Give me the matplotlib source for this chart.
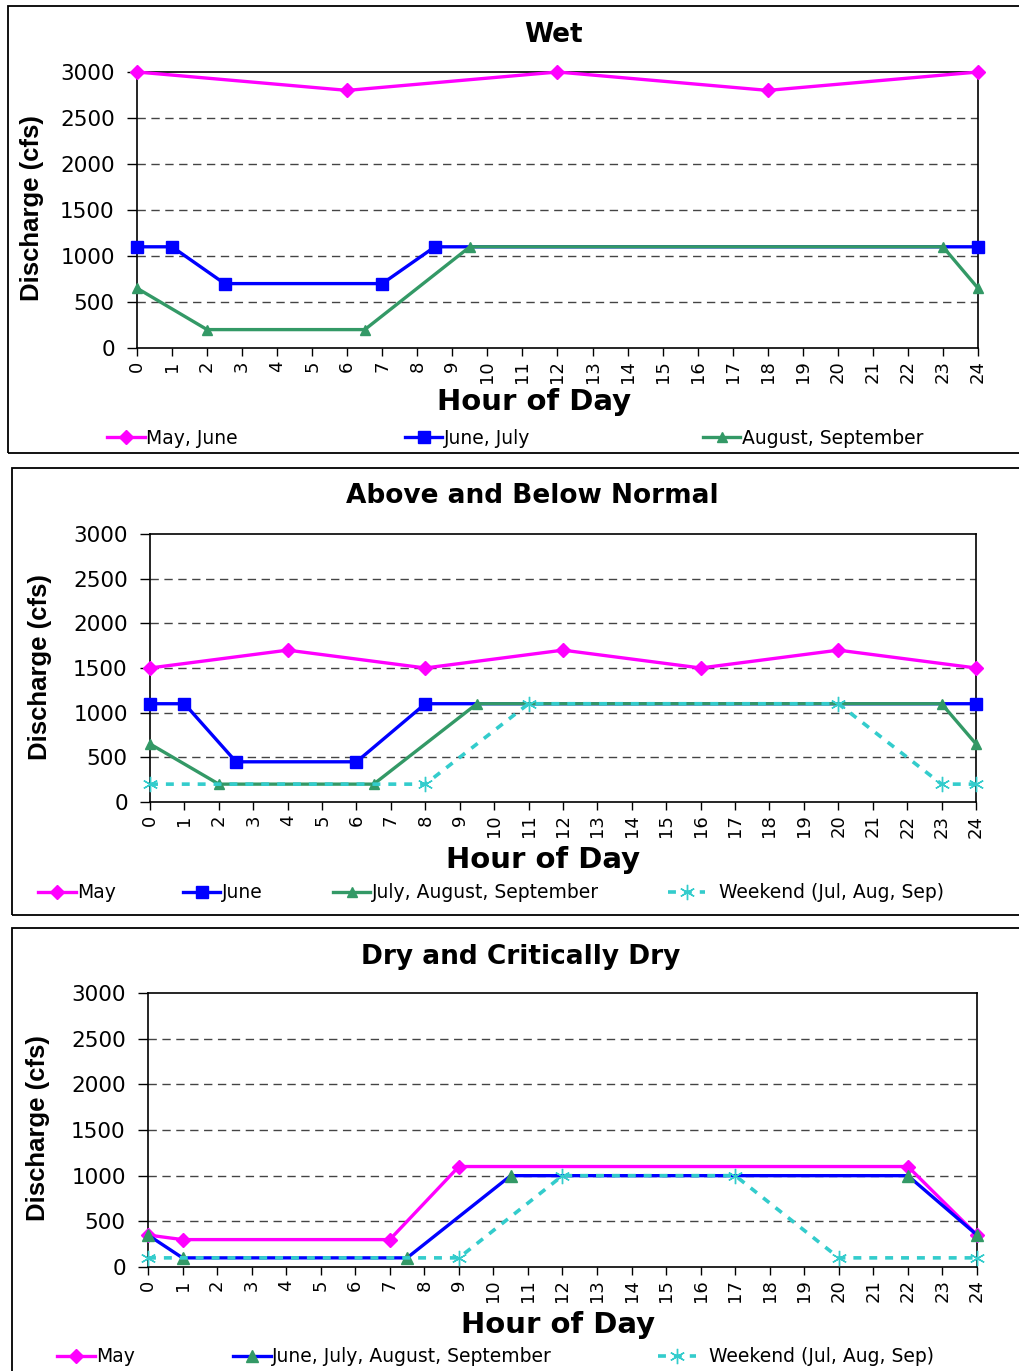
"""
Hourly discharge schedules (cfs) by water year type.
Three stacked panels: Wet / Above and Below Normal / Dry and Critically Dry.
"""

import matplotlib
matplotlib.use("Agg")
import matplotlib.pyplot as plt
from matplotlib.patches import Rectangle
from matplotlib.lines import Line2D

plt.rcParams["font.family"] = ["DejaVu Sans"]

# ----------------------------------------------------------------------------
# Data
# ----------------------------------------------------------------------------
HOURS = list(range(0, 25))
Y_TICKS = [0, 500, 1000, 1500, 2000, 2500, 3000]

# Wet
wet_may_jun_x = [0, 6, 12, 18, 24]
wet_may_jun_y = [3000, 2800, 3000, 2800, 3000]
wet_jun_jul_x = [0, 1, 2.5, 7, 8.5, 24]
wet_jun_jul_y = [1100, 1100, 700, 700, 1100, 1100]
wet_aug_sep_x = [0, 2, 6.5, 9.5, 23, 24]
wet_aug_sep_y = [650, 200, 200, 1100, 1100, 650]

# Above and Below Normal
abn_may_x = [0, 4, 8, 12, 16, 20, 24]
abn_may_y = [1500, 1700, 1500, 1700, 1500, 1700, 1500]
abn_jun_x = [0, 1, 2.5, 6, 8, 24]
abn_jun_y = [1100, 1100, 450, 450, 1100, 1100]
abn_jas_x = [0, 2, 6.5, 9.5, 23, 24]
abn_jas_y = [650, 200, 200, 1100, 1100, 650]
abn_wkd_x = [0, 8, 11, 20, 23, 24]
abn_wkd_y = [200, 200, 1100, 1100, 200, 200]

# Dry and Critically Dry
dry_may_x = [0, 1, 7, 9, 22, 24]
dry_may_y = [350, 300, 300, 1100, 1100, 350]
dry_jjas_x = [0, 1, 7.5, 10.5, 22, 24]
dry_jjas_y = [350, 100, 100, 1000, 1000, 350]
dry_wkd_x = [0, 9, 12, 17, 20, 24]
dry_wkd_y = [100, 100, 1000, 1000, 100, 100]

# ----------------------------------------------------------------------------
# Styles
# ----------------------------------------------------------------------------
MAGENTA = "#FF00FF"
BLUE = "#0000FF"
GREEN = "#339966"
CYAN = "#33CCCC"

STY_MAGENTA = dict(color=MAGENTA, lw=2.4, marker="D", ms=7)
STY_BLUE_SQ = dict(color=BLUE, lw=2.4, marker="s", ms=8.5)
STY_GREEN = dict(color=GREEN, lw=2.4, marker="^", ms=7)
STY_BLUE_TRI = dict(color=BLUE, lw=2.4, marker="^", ms=9,
                    markerfacecolor=GREEN, markeredgecolor=GREEN)
STY_WEEKEND = dict(color=CYAN, lw=2.6, linestyle=(0, (2.2, 2.2)),
                   marker=(6, 2, 0), ms=11, markeredgewidth=1.0)

W, H = 1020, 1371
fig = plt.figure(figsize=(W / 100, H / 100), dpi=100)


def fx(px):
    return px / W


def fy(py):
    return 1 - py / H


def frame(x0, y0, x1, y1):
    fig.patches.append(Rectangle((fx(x0), fy(y1)), fx(x1 - x0), (y1 - y0) / H,
                                 transform=fig.transFigure, fill=False,
                                 edgecolor="black", lw=1.3))


def make_axes(left, top, right, bottom):
    ax = fig.add_axes([fx(left), fy(bottom), fx(right - left), (bottom - top) / H])
    ax.set_xlim(0, 24)
    ax.set_ylim(0, 3000)
    ax.set_xticks(HOURS)
    ax.set_xticklabels([str(h) for h in HOURS], rotation=90, fontsize=13)
    ax.set_yticks(Y_TICKS)
    ax.set_yticklabels([str(v) for v in Y_TICKS], fontsize=15.5)
    ax.tick_params(axis="y", direction="out", length=7, width=1, pad=9)
    ax.tick_params(axis="x", direction="out", length=6, width=1, pad=3)
    for v in Y_TICKS[1:-1]:
        ax.axhline(v, color="#444444", lw=1, dashes=(6, 4), zorder=1)
    for s in ax.spines.values():
        s.set_color("black")
        s.set_linewidth(1.2)
    return ax


def texts(title_xy, ylab_xy, xlab_xy, title):
    fig.text(fx(title_xy[0]), fy(title_xy[1]), title, ha="center", va="center",
             fontsize=19, fontweight="bold")
    fig.text(fx(ylab_xy[0]), fy(ylab_xy[1]), "Discharge (cfs)", ha="center",
             va="center", rotation=90, fontsize=18.5, fontweight="bold",
             family="Liberation Sans")
    fig.text(fx(xlab_xy[0]), fy(xlab_xy[1]), "Hour of Day", ha="center",
             va="center", fontsize=21, fontweight="bold")


def legend_entry(style, label, x_px, y_px, hlen=2.0):
    h = Line2D([], [], **style)
    fig.legend(handles=[h], labels=[label], loc="center left",
               bbox_to_anchor=(fx(x_px), fy(y_px)), frameon=False, fontsize=13.5,
               borderpad=0, borderaxespad=0, handlelength=hlen,
               handletextpad=0.1)


# ----------------------------------------------------------------------------
# Panel 1 : Wet
# ----------------------------------------------------------------------------
frame(8, 6, 1030, 453)
ax = make_axes(137, 72, 978, 348)
ax.plot(wet_may_jun_x, wet_may_jun_y, clip_on=False, zorder=4, **STY_MAGENTA)
ax.plot(wet_jun_jul_x, wet_jun_jul_y, clip_on=False, zorder=3, **STY_BLUE_SQ)
ax.plot(wet_aug_sep_x, wet_aug_sep_y, clip_on=False, zorder=4, **STY_GREEN)
texts((554, 35), (32, 208), (534, 402), "Wet")
legend_entry(STY_MAGENTA, "May, June", 107, 438)
legend_entry(STY_BLUE_SQ, "June, July", 405, 438)
legend_entry(STY_GREEN, "August, September", 703, 438)

# ----------------------------------------------------------------------------
# Panel 2 : Above and Below Normal
# ----------------------------------------------------------------------------
frame(12, 468, 1030, 915)
ax = make_axes(150, 534, 976, 802)
ax.plot(abn_may_x, abn_may_y, clip_on=False, zorder=4, **STY_MAGENTA)
ax.plot(abn_jun_x, abn_jun_y, clip_on=False, zorder=3, **STY_BLUE_SQ)
ax.plot(abn_jas_x, abn_jas_y, clip_on=False, zorder=4, **STY_GREEN)
ax.plot(abn_wkd_x, abn_wkd_y, clip_on=False, zorder=5, **STY_WEEKEND)
texts((532, 496), (40, 667), (543, 860), "Above and Below Normal")
legend_entry(STY_MAGENTA, "May", 38, 893)
legend_entry(STY_BLUE_SQ, "June", 183, 893)
legend_entry(STY_GREEN, "July, August, September", 333, 893)
legend_entry(STY_WEEKEND, "  Weekend (Jul, Aug, Sep)", 668, 893)

# ----------------------------------------------------------------------------
# Panel 3 : Dry and Critically Dry
# ----------------------------------------------------------------------------
frame(12, 928, 1030, 1390)
ax = make_axes(148, 993, 977, 1267)
ax.plot(dry_may_x, dry_may_y, clip_on=False, zorder=3, **STY_MAGENTA)
ax.plot(dry_jjas_x, dry_jjas_y, clip_on=False, zorder=4, **STY_BLUE_TRI)
ax.plot(dry_wkd_x, dry_wkd_y, clip_on=False, zorder=5, **STY_WEEKEND)
texts((521, 957), (38, 1128), (558, 1325), "Dry and Critically Dry")
legend_entry(STY_MAGENTA, "May", 57, 1357)
legend_entry(STY_BLUE_TRI, "June, July, August, September", 233, 1357)
legend_entry(STY_WEEKEND, "  Weekend (Jul, Aug, Sep)", 658, 1357)

fig.savefig("out.png", dpi=100)
